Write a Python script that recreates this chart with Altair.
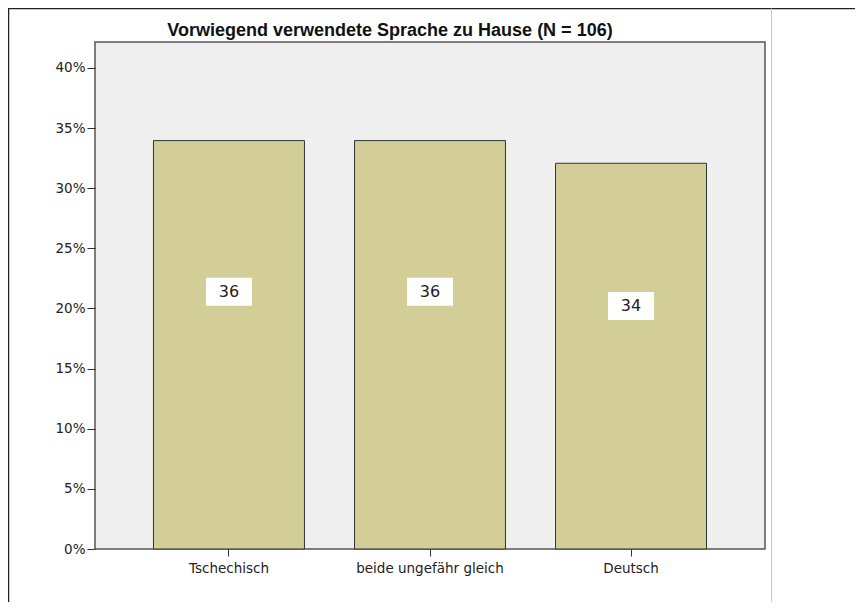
import altair as alt
import pandas as pd

categories = ["Tschechisch", "beide ungefähr gleich", "Deutsch"]
counts = [36, 36, 34]
N = 106
y_ticks = [0, 0.05, 0.10, 0.15, 0.20, 0.25, 0.30, 0.35, 0.40]
title_text = "Vorwiegend verwendete Sprache zu Hause (N = 106)"

df = pd.DataFrame({"cat": categories, "count": counts})
df["pct"] = df["count"] / N

W, H = 670, 507
YMAX = 0.4216
px = YMAX / H  # data units per pixel

FONT = "DejaVu Sans"
TFONT = "Liberation Sans"

x_enc = alt.X(
    "cat:N",
    sort=categories,
    scale=alt.Scale(paddingInner=0.249, paddingOuter=0.291),
    axis=alt.Axis(
        title=None, labelAngle=0, domain=False, ticks=True, tickSize=7,
        tickColor="#333", labelFont=FONT, labelFontSize=13.5, labelColor="#222",
        labelPadding=5,
    ),
)
y_scale = alt.Scale(domain=[0, YMAX], nice=False, zero=True)

base = alt.Chart(df)

bars = base.mark_bar(color="#D3CE98", stroke="#333333", strokeWidth=1).encode(
    x=x_enc,
    y=alt.Y(
        "pct:Q", scale=y_scale,
        axis=alt.Axis(
            title=None, values=y_ticks, format=".0%", domain=False, grid=False,
            tickSize=8, tickColor="#333", labelFont=FONT, labelFontSize=13.5,
            labelColor="#222", labelPadding=2,
        ),
    ),
)

lab = base.transform_calculate(
    ly="datum.pct * 0.63",
    ly1=f"datum.pct * 0.63 - {14 * px}",
    ly2=f"datum.pct * 0.63 + {14 * px}",
)

label_box = lab.mark_bar(width=46, color="white").encode(
    x=alt.X("cat:N", sort=categories),
    y=alt.Y("ly1:Q", scale=y_scale),
    y2="ly2:Q",
)
label_text = lab.mark_text(font=FONT, fontSize=16, color="#222", baseline="middle").encode(
    x=alt.X("cat:N", sort=categories),
    y=alt.Y("ly:Q", scale=y_scale),
    text="count:Q",
)

one = alt.Chart(pd.DataFrame({"a": [0]}))
title_mark = one.mark_text(
    text=title_text, font=TFONT, fontSize=18, fontWeight="bold", color="#111",
    align="center", baseline="alphabetic",
).encode(x=alt.value(295), y=alt.value(-6))

left_line = one.mark_rule(color="#222", strokeWidth=1.5).encode(
    x=alt.value(-86.5), y=alt.value(-34), y2=alt.value(560)
)
top_line = one.mark_rule(color="#222", strokeWidth=1.5).encode(
    x=alt.value(-87), x2=alt.value(760), y=alt.value(-33.5)
)
right_line = one.mark_rule(color="#C8C8C8", strokeWidth=1).encode(
    x=alt.value(676.5), y=alt.value(-33.5), y2=alt.value(560)
)

chart = alt.layer(
    bars, label_box, label_text, title_mark, left_line, top_line, right_line
).properties(
    width=W,
    height=H,
    autosize=alt.AutoSizeParams(type="none"),
    padding={"left": 87, "top": 34, "right": 90, "bottom": 55},
).configure(
    background="white"
).configure_view(
    fill="#EFEFEF", stroke="#555555", strokeWidth=1.5
)

chart.save("out.html", embed_options={"renderer": "svg", "actions": False})
